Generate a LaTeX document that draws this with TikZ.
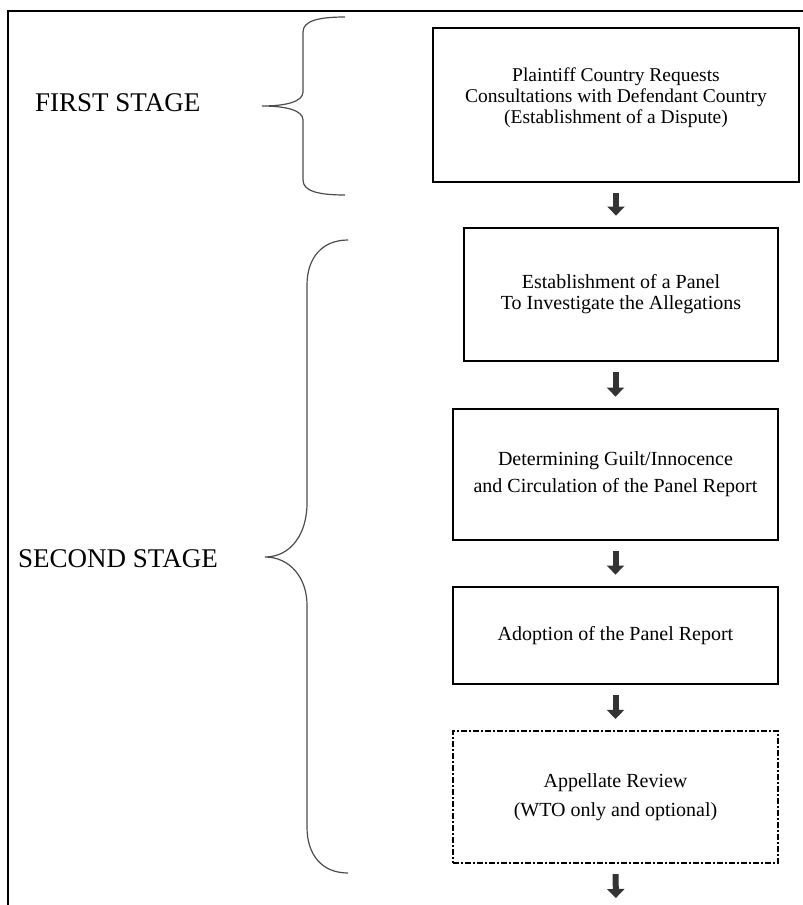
\documentclass[tikz,border=0pt]{standalone}
\usepackage{fontspec}
\setmainfont{Liberation Serif}
\usetikzlibrary{arrows.meta}

\newcommand{\boxfont}{\fontsize{20}{19}\selectfont}

\begin{document}
\begin{tikzpicture}[x=1pt,y=-1pt,
            stagebox/.style={draw,line width=2.8pt,align=center,font=\boxfont,inner sep=0pt,minimum width=325pt},
            flow/.style={black!80,line width=6pt,-{Triangle[width=17pt,length=9pt]},shorten <=10pt,shorten >=11pt},
            brace/.style={black!70,line width=1.2pt},
            stagelabel/.style={anchor=base west,inner sep=0pt,font=\fontsize{27}{27}\selectfont}]
            \useasboundingbox (0,0) rectangle (803,905);
            \draw[line width=2pt] (803,11)--(8,11)--(8,905);
            \node[stagebox,font=\fontsize{19.5}{19}\selectfont,minimum width=366pt,minimum height=154pt] (consult) at (616,105) {Plaintiff Country Requests\\[2pt]Consultations with Defendant Country\\[2pt](Establishment of a Dispute)\\[-1pt]\mbox{}};
            \node[stagebox,minimum width=314pt,minimum height=133pt] (panel) at (621,294.5) {Establishment of a Panel\\[2pt]To Investigate the Allegations};
            \node[stagebox,minimum height=131pt] (guilt) at (615.5,474.5) {Determining Guilt/Innocence\\[8pt]and Circulation of the Panel Report};
            \node[stagebox,minimum height=97pt] (adopt) at (615.5,635.5) {Adoption of the Panel Report};
            \node[stagebox,line width=2.2pt,dash pattern=on 6pt off 2pt on 2pt off 2pt,minimum height=132pt] (appeal) at (615.5,797) {Appellate Review\\[10pt](WTO only and optional)};
            \coordinate (exit) at (616,909);
            \draw[flow] (consult.south)--(consult.south|-panel.north);
            \draw[flow] (panel.south-|guilt.north)--(guilt.north);
            \draw[flow] (guilt.south)--(adopt.north);
            \draw[flow] (adopt.south)--(appeal.north);
            \draw[flow] (appeal.south)--(exit);
            \node[stagelabel] (first) at (35,111) {FIRST STAGE};
            \node[stagelabel] (second) at (18,567) {SECOND STAGE};
            \draw[brace] (345,17) .. controls (318,17) and (303,21) .. (303,32)--(303,92) .. controls (303,102) and (285,106) .. (262,106) .. controls (285,106) and (303,110) .. (303,120)--(303,180) .. controls (303,191) and (318,195) .. (345,195);
            \draw[brace] (348,240) .. controls (322,240) and (307,258) .. (307,285)--(307,503) .. controls (307,535) and (290,557) .. (265,557) .. controls (290,557) and (307,578) .. (307,605)--(307,827) .. controls (307,855) and (322,873) .. (348,873);
        \end{tikzpicture}
\end{document}
